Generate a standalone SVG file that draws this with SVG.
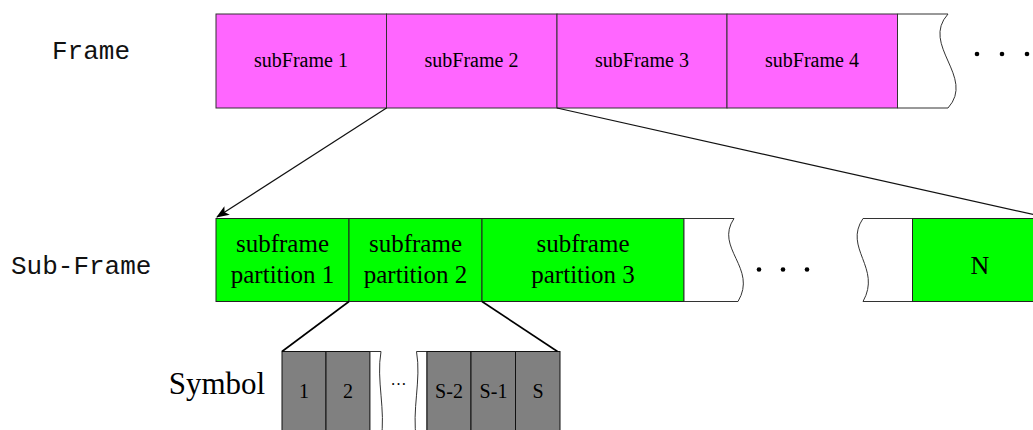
<svg xmlns="http://www.w3.org/2000/svg" width="1033" height="430" viewBox="0 0 1033 430">
  <style>
    .row-label { font-family: "Liberation Mono", "DejaVu Sans Mono", monospace; font-size: 26px; fill: #111; }
    .serif { font-family: "Liberation Serif", "Times New Roman", serif; fill: #000; text-anchor: middle; }
    .frame { fill: #ff66ff; stroke: #333; stroke-width: 1; }
    .part { fill: #00ff00; stroke: #222; stroke-width: 1; }
    .sym { fill: #808080; stroke: #111; stroke-width: 1; }
    .gap { fill: #fff; stroke: #333; stroke-width: 1; }
    .link { fill: none; stroke: #111; stroke-width: 1.2; }
    .link-thick { fill: none; stroke: #000; stroke-width: 1.6; }
    .dot { fill: #000; }
  </style>
  <defs>
    <marker id="arrow" viewBox="0 0 13 10" refX="12" refY="5" markerWidth="13" markerHeight="10" markerUnits="userSpaceOnUse" orient="auto">
      <path d="M0,0 L13,5 L0,10 L3,5 Z" fill="#000"/>
    </marker>
  </defs>

  <rect width="1033" height="430" fill="#fff"/>

  <!-- row labels -->
  <text class="row-label" x="52" y="59">Frame</text>
  <text class="row-label" x="11" y="274">Sub-Frame</text>
  <text class="serif" x="217" y="394" style="font-size:31px">Symbol</text>

  <!-- Frame row -->
  <g id="frame">
    <g id="subframe-1">
      <rect class="frame" x="216" y="14" width="170.5" height="94"/>
      <text class="serif" x="301" y="67" style="font-size:20px">subFrame 1</text>
    </g>
    <g id="subframe-2">
      <rect class="frame" x="386.5" y="14" width="170.5" height="94"/>
      <text class="serif" x="471.5" y="67" style="font-size:20px">subFrame 2</text>
    </g>
    <g id="subframe-3">
      <rect class="frame" x="557" y="14" width="170" height="94"/>
      <text class="serif" x="642" y="67" style="font-size:20px">subFrame 3</text>
    </g>
    <g id="subframe-4">
      <rect class="frame" x="727" y="14" width="170.5" height="94"/>
      <text class="serif" x="812" y="67" style="font-size:20px">subFrame 4</text>
    </g>
    <g id="frame-tail">
      <path class="gap" d="M897.5,14 L948,14 C920,45 976,77 948,108 L897.5,108 Z"/>
      <circle class="dot" cx="977" cy="54" r="2.3"/>
      <circle class="dot" cx="1002" cy="54" r="2.3"/>
      <circle class="dot" cx="1027" cy="54" r="2.3"/>
    </g>
  </g>

  <!-- Sub-Frame row -->
  <g id="subframe">
    <g id="partition-1">
      <rect class="part" x="216" y="218.5" width="133" height="83"/>
      <text class="serif" x="282.5" y="252" style="font-size:25px">subframe</text>
      <text class="serif" x="282.5" y="283" style="font-size:25px">partition 1</text>
    </g>
    <g id="partition-2">
      <rect class="part" x="349" y="218.5" width="133" height="83"/>
      <text class="serif" x="415.5" y="252" style="font-size:25px">subframe</text>
      <text class="serif" x="415.5" y="283" style="font-size:25px">partition 2</text>
    </g>
    <g id="partition-3">
      <rect class="part" x="482" y="218.5" width="202" height="83"/>
      <text class="serif" x="583" y="252" style="font-size:25px">subframe</text>
      <text class="serif" x="583" y="283" style="font-size:25px">partition 3</text>
    </g>
    <g id="partition-gap">
      <path class="gap" d="M684,218.5 L734,218.5 C714,248 758,268 738,301.5 L684,301.5 Z"/>
      <circle class="dot" cx="759" cy="269.5" r="2.3"/>
      <circle class="dot" cx="783" cy="269.5" r="2.3"/>
      <circle class="dot" cx="807" cy="269.5" r="2.3"/>
      <path class="gap" d="M863,218.5 L912.5,218.5 L912.5,301.5 L863,301.5 C882,268 843,248 863,218.5 Z"/>
    </g>
    <g id="partition-n">
      <rect class="part" x="912.5" y="218.5" width="130" height="83"/>
      <text class="serif" x="980" y="274" style="font-size:26px">N</text>
    </g>
  </g>

  <!-- Symbol row -->
  <g id="symbols">
    <g id="symbol-1">
      <rect class="sym" x="282" y="351.5" width="44" height="90"/>
      <text class="serif" x="304" y="398" style="font-size:20px">1</text>
    </g>
    <g id="symbol-2">
      <rect class="sym" x="326" y="351.5" width="44" height="90"/>
      <text class="serif" x="348" y="398" style="font-size:20px">2</text>
    </g>
    <g id="symbol-gap">
      <path class="gap" d="M370,351.5 L381,351.5 C376,380 386,410 381,440 L370,440 Z"/>
      <text class="serif" x="398.5" y="385" style="font-size:16px">…</text>
      <path class="gap" d="M416.5,351.5 L427,351.5 L427,440 L416.5,440 C411.5,410 421.5,380 416.5,351.5 Z"/>
    </g>
    <g id="symbol-s-2">
      <rect class="sym" x="427" y="351.5" width="44" height="90"/>
      <text class="serif" x="449" y="398" style="font-size:20px">S-2</text>
    </g>
    <g id="symbol-s-1">
      <rect class="sym" x="471" y="351.5" width="44.5" height="90"/>
      <text class="serif" x="493.5" y="398" style="font-size:20px">S-1</text>
    </g>
    <g id="symbol-s">
      <rect class="sym" x="515.5" y="351.5" width="44.5" height="90"/>
      <text class="serif" x="538" y="398" style="font-size:20px">S</text>
    </g>
  </g>

  <!-- connectors -->
  <g id="connectors">
    <line class="link" x1="386.5" y1="108" x2="217" y2="217" marker-end="url(#arrow)"/>
    <line class="link" x1="557" y1="108" x2="1040" y2="216"/>
    <line class="link-thick" x1="349" y1="301.5" x2="282" y2="351.5"/>
    <line class="link-thick" x1="482" y1="301.5" x2="557.5" y2="351.5"/>
  </g>
</svg>
